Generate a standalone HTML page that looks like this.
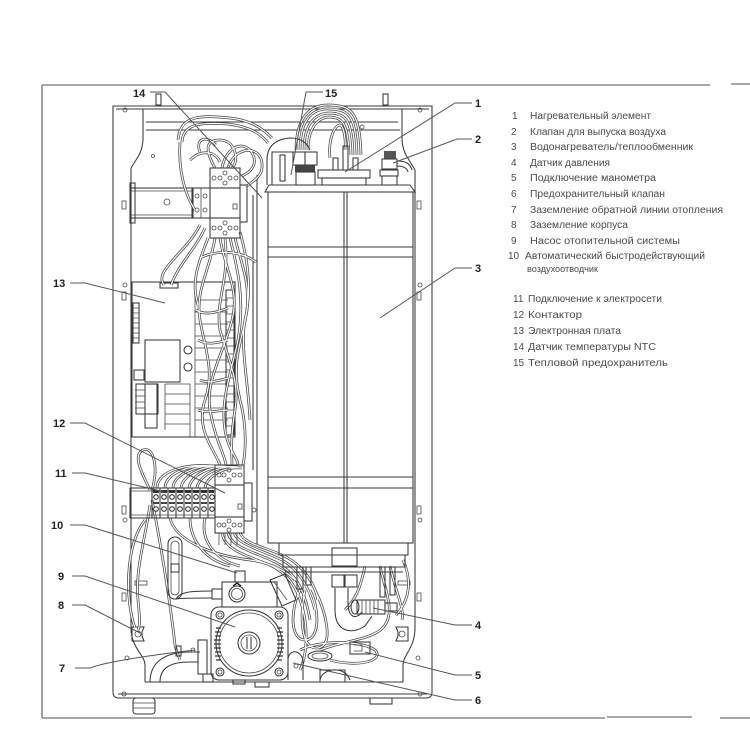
<!DOCTYPE html>
<html><head><meta charset="utf-8"><style>
html,body{margin:0;padding:0;background:#fff;}
svg{display:block;}
.l{fill:none;stroke:#383838;stroke-width:1.05;}
.t{fill:none;stroke:#484848;stroke-width:.8;}
.ld{fill:none;stroke:#555;stroke-width:1;}
.lb{font-family:"Liberation Sans",sans-serif;font-weight:bold;font-size:11px;fill:#222;}
.lg{font-family:"Liberation Sans","Noto Sans CJK SC",sans-serif;font-size:10px;fill:#4a4a4a;}
</style></head><body>
<svg width="750" height="750" viewBox="0 0 750 750" xmlns="http://www.w3.org/2000/svg">
<rect width="750" height="750" fill="#fff"/>
<!-- outer frame -->
<path d="M42,85 H710 M731,84 H750 M42,85 V718 M42,718 H605 M607,717 H692 M720,718 H750" fill="none" stroke="#8a8a8a" stroke-width="1.6"/>

<!-- cabinet -->
<path class="l" d="M113,106 H432 V692 Q432,698 426,698 H119 Q113,698 113,692 Z"/>
<path class="l" d="M116,109 H429"/>
<path class="l" d="M143,109 V138 Q143,150 136,160 L131,168 V628 C131,648 145,655 145,665 V682"/>
<path class="l" d="M402,109 V138 Q402,150 409,160 L415,170 V628 C415,648 403,655 403,665 V682"/>
<path class="l" d="M146,122 H398 M146,130 H400"/>
<path class="l" d="M145,682 H403"/>
<path class="l" d="M118,694 H427"/>
<!-- top tabs -->
<rect class="l" x="156" y="94" width="5" height="11"/>
<rect class="l" x="383" y="94" width="5" height="11"/>
<!-- holes & slots -->
<g class="t">
<circle cx="125" cy="110" r="2"/><circle cx="420" cy="110" r="2"/>
<circle cx="153" cy="156" r="1.5"/><circle cx="362" cy="127" r="2"/>
<rect x="122" y="201" width="4" height="8"/><rect x="417" y="201" width="4" height="8"/>
<circle cx="125" cy="285" r="2"/><circle cx="420" cy="285" r="2"/>
<rect x="122" y="292" width="4" height="8"/><rect x="417" y="292" width="4" height="8"/>
<rect x="122" y="506" width="4" height="8"/><rect x="417" y="506" width="4" height="8"/>
<circle cx="125" cy="520" r="2"/><circle cx="420" cy="520" r="2"/>
<rect x="122" y="593" width="4" height="8"/><rect x="417" y="593" width="4" height="8"/>
<circle cx="127" cy="658" r="2"/><circle cx="418" cy="658" r="2"/>
<circle cx="124" cy="694" r="2"/><circle cx="420" cy="694" r="2"/>
<rect x="135" y="581" width="12" height="4"/><rect x="398" y="581" width="12" height="4"/>
</g>
<!-- clips 8 -->
<path class="l" d="M132,627 h12 l-2,5 v4 l2,5 h-12 z M408,627 h-12 l2,5 v4 l-2,5 h12 z"/>
<circle class="t" cx="138" cy="634" r="3"/><circle class="t" cx="402" cy="634" r="3"/>
<!-- feet -->
<rect class="l" x="133" y="698" width="22" height="16" rx="3"/>
<path class="t" d="M133,703 H155 M133,708 H155"/>
<rect class="l" x="370" y="698" width="22" height="6"/>

<!-- divider lines -->
<path class="l" d="M253,195 V470 M257,175 V545"/>

<!-- DIN rail upper -->
<rect class="l" x="131" y="188" width="62" height="30"/>
<path class="t" d="M131,191 H193 M131,215 H193"/>
<rect class="l" x="130" y="183" width="5" height="40"/>
<circle class="t" cx="167" cy="202" r="3"/>
<rect class="l" x="192" y="188" width="18" height="30"/>
<g class="t"><circle cx="197" cy="196" r="2"/><circle cx="205" cy="196" r="2"/><circle cx="197" cy="210" r="2"/><circle cx="205" cy="210" r="2"/><path d="M201,188 V218"/></g>

<!-- electronic board -->
<rect class="l" x="132" y="282" width="103" height="155"/>
<rect class="l" x="160" y="283" width="18" height="5"/>
<rect class="l" x="133" y="303" width="6" height="40"/>
<path class="t" d="M133,308 h6 M133,313 h6 M133,318 h6 M133,323 h6 M133,328 h6 M133,333 h6 M133,338 h6"/>
<rect class="l" x="145" y="340" width="35" height="42"/>
<circle class="l" cx="188" cy="350" r="4"/><circle class="l" cx="188" cy="367" r="4"/>
<rect class="l" x="134" y="370" width="10" height="10"/>
<rect class="l" x="136" y="384" width="22" height="30"/>
<rect class="l" x="145" y="384" width="12" height="44"/>
<path class="t" d="M135,390 h10 M135,396 h10 M135,402 h10 M135,408 h10"/>
<path class="t" d="M165,384 H190 V437 M165,394 H190 M165,404 H190 M165,414 H190 M165,424 H190 M165,384 V430"/>
<path class="t" d="M195,290 V437 M195,300 H228 M195,312 H228 M195,324 H228 M195,336 H228 M195,348 H228 M195,360 H228 M195,372 H228 M195,384 H228 M195,396 H228 M195,408 H228 M195,420 H228"/>
<rect class="l" x="226" y="290" width="8" height="145"/>
<path class="t" d="M226,298 h8 M226,306 h8 M226,314 h8 M226,322 h8 M226,330 h8 M226,338 h8 M226,346 h8 M226,354 h8 M226,362 h8 M226,370 h8 M226,378 h8 M226,386 h8 M226,394 h8 M226,402 h8 M226,410 h8 M226,418 h8 M226,426 h8"/>

<!-- wires definition -->
<defs>
<g id="W">
<path d="M178,140 C180,115 200,115 230,118 C250,120 262,128 272,138"/>
<path d="M182,142 C183,124 200,122 228,124 C250,127 260,133 268,143"/>
<path d="M180,142 C178,170 185,195 195,210"/>
<path d="M215,168 C205,150 205,140 220,140 C235,140 240,160 232,168"/>
<path d="M222,168 C225,150 240,140 250,150 C258,160 255,170 242,176"/>
<path d="M228,168 C235,145 262,145 262,165 C263,175 255,180 247,186"/>
<path d="M200,152 C195,140 205,134 216,145"/>
<path d="M190,160 C200,150 215,150 220,162"/>
<path d="M215,238 C210,270 195,290 200,320 C205,350 215,370 205,400 C195,430 215,450 220,465"/>
<path d="M220,238 C225,270 240,290 232,320 C225,350 205,380 210,410 C215,440 225,455 226,465"/>
<path d="M225,238 C230,280 215,300 220,330 C228,360 240,380 235,410 C230,440 232,455 232,465"/>
<path d="M230,238 C238,270 245,300 238,340 C232,370 220,400 225,430 C228,450 238,458 238,465"/>
<path d="M235,238 C240,260 250,280 247,310 C243,340 230,360 240,400 C248,430 245,455 243,465"/>
<path d="M240,232 C248,260 252,290 245,320 C240,345 248,380 250,420"/>
<path d="M208,238 C200,260 190,280 198,305"/>
<path d="M200,225 C190,245 175,255 165,270 C160,278 162,282 164,285"/>
<path d="M205,228 C195,250 180,262 171,285"/>
<path d="M200,258 C215,250 240,250 256,262"/>
<path d="M196,310 C205,316 218,312 228,308"/>
<path d="M198,340 C208,346 220,342 228,340"/>
<path d="M200,380 C210,384 220,380 228,378"/>
<path d="M198,410 C208,414 220,410 228,410"/>
<path d="M157,488 C157,470 190,462 218,467"/>
<path d="M165,488 C165,472 195,462 222,467"/>
<path d="M173,488 C173,474 200,462 226,467"/>
<path d="M181,488 C182,475 205,463 230,467"/>
<path d="M189,488 C190,476 210,464 234,467"/>
<path d="M197,488 C198,478 215,465 238,467"/>
<path d="M205,488 C206,478 222,466 242,468"/>
<path d="M150,490 C140,470 133,455 143,450 C155,446 158,470 152,490"/>
<path d="M150,505 C145,540 135,570 138,600 C140,620 140,626 138,630"/>
<path d="M152,500 C160,540 170,600 175,645 C176,650 178,655 180,660"/>
<path d="M145,520 C125,545 125,600 135,628"/>
<path d="M222,533 C225,550 245,555 270,565 C290,575 300,590 305,620 C308,640 305,660 300,670"/>
<path d="M228,533 C232,548 255,552 275,562 C295,572 305,590 310,620"/>
<path d="M234,533 C238,545 262,550 282,560 C300,570 310,590 315,610"/>
<path d="M240,533 C245,545 270,548 288,558 C305,568 315,585 318,600"/>
<path d="M205,518 C200,540 215,560 240,566"/>
<path d="M190,518 C190,540 205,560 230,566"/>
<path d="M170,518 C175,540 210,555 250,560 C270,563 285,570 295,580"/>
<path d="M300,590 C290,610 290,640 305,640 C320,640 320,610 310,590"/>
<path d="M305,590 C300,615 300,650 318,648 C335,645 325,610 315,590"/>
<path d="M365,566 C360,590 355,600 345,610"/>
<path d="M380,566 C385,590 395,610 385,625 C375,640 345,640 320,650"/>
<path d="M390,566 C395,590 405,610 402,620"/>
<path d="M403,560 C412,580 410,600 396,615"/>
<path d="M300,650 C320,640 360,640 375,650 C385,660 360,668 330,660"/>
<path d="M300,150 C300,120 312,108 330,109 C348,110 356,114 357,155"/>
<path d="M304,150 C304,124 315,113 330,113 C345,114 352,118 353,155"/>
<path d="M308,150 C308,128 318,117 330,117 C342,118 348,122 349,155"/>
<path d="M296,150 C296,118 310,104 330,105 C350,106 360,110 361,155"/>
<path d="M330,158 C328,138 335,125 340,125 C344,126 346,140 345,150"/>
</g>
</defs>
<use href="#W" fill="none" stroke="#444" stroke-width="2.7"/>
<use href="#W" fill="none" stroke="#fff" stroke-width="1.2"/>

<!-- upper contactor -->
<g>
<rect class="l" x="210" y="168" width="30" height="20" fill="#fff"/>
<rect class="l" x="210" y="188" width="30" height="30" fill="#fff"/>
<rect class="l" x="210" y="218" width="30" height="20" fill="#fff"/>
<rect class="l" x="240" y="185" width="7" height="37" fill="#fff"/>
<g class="t"><circle cx="225" cy="173" r="2"/><circle cx="225" cy="183" r="2"/><circle cx="220" cy="178" r="2"/><circle cx="230" cy="178" r="2"/><circle cx="214" cy="178" r="2"/><circle cx="236" cy="178" r="2"/>
<circle cx="225" cy="223" r="2"/><circle cx="225" cy="233" r="2"/><circle cx="220" cy="228" r="2"/><circle cx="230" cy="228" r="2"/><circle cx="214" cy="228" r="2"/><circle cx="236" cy="228" r="2"/>
<rect x="233" y="204" width="4" height="5"/></g>
</g>

<!-- lower DIN rail & terminals -->
<rect class="l" x="130" y="488" width="22" height="30" fill="#fff"/>
<path class="t" d="M130,491 H215 M130,515 H215"/>
<g>
<rect class="l" x="152" y="488" width="63" height="30" fill="#fff"/>
<path class="l" d="M160,488 V518 M168,488 V518 M176,488 V518 M184,488 V518 M192,488 V518 M200,488 V518 M208,488 V518"/>
<g fill="#fff" stroke="#222" stroke-width="1">
<circle cx="156" cy="497" r="2.3"/><circle cx="164" cy="497" r="2.3"/><circle cx="172" cy="497" r="2.3"/><circle cx="180" cy="497" r="2.3"/><circle cx="188" cy="497" r="2.3"/><circle cx="196" cy="497" r="2.3"/><circle cx="204" cy="497" r="2.3"/><circle cx="212" cy="497" r="2.3"/>
<circle cx="156" cy="509" r="2.3"/><circle cx="164" cy="509" r="2.3"/><circle cx="172" cy="509" r="2.3"/><circle cx="180" cy="509" r="2.3"/><circle cx="188" cy="509" r="2.3"/><circle cx="196" cy="509" r="2.3"/><circle cx="204" cy="509" r="2.3"/><circle cx="212" cy="509" r="2.3"/>
</g>
<path d="M153,490 h6 v3 h-6z M161,490 h6 v3 h-6z M169,490 h6 v3 h-6z M177,490 h6 v3 h-6z M185,490 h6 v3 h-6z M193,490 h6 v3 h-6z M201,490 h6 v3 h-6z M209,490 h5 v3 h-5z" fill="#333"/>
<path d="M153,502 h6 v2 h-6z M161,502 h6 v2 h-6z M169,502 h6 v2 h-6z M177,502 h6 v2 h-6z M185,502 h6 v2 h-6z M193,502 h6 v2 h-6z M201,502 h6 v2 h-6z M209,502 h5 v2 h-5z" fill="#444"/>
</g>
<!-- lower contactor -->
<rect class="l" x="215" y="465" width="29" height="20" fill="#fff"/>
<rect class="l" x="215" y="485" width="29" height="32" fill="#fff"/>
<rect class="l" x="215" y="517" width="29" height="16" fill="#fff"/>
<rect class="l" x="244" y="483" width="8" height="38" fill="#fff"/>
<g class="t"><circle cx="229" cy="470" r="2"/><circle cx="229" cy="480" r="2"/><circle cx="224" cy="475" r="2"/><circle cx="234" cy="475" r="2"/><circle cx="219" cy="475" r="2"/><circle cx="240" cy="475" r="2"/>
<circle cx="229" cy="521" r="2"/><circle cx="229" cy="530" r="2"/><circle cx="224" cy="525" r="2"/><circle cx="234" cy="525" r="2"/><circle cx="219" cy="525" r="2"/><circle cx="240" cy="525" r="2"/>
<rect x="238" y="504" width="4" height="5"/><circle cx="254" cy="510" r="2"/></g>
<path class="t" d="M219,533 V545 M225,533 V545 M231,533 V545 M237,533 V545"/>

<!-- tank -->
<rect class="l" x="268" y="192" width="145" height="351" fill="#fff"/>
<path class="l" d="M265,192 L269,185 H410 L415,192 Z" fill="#fff"/>
<path class="l" d="M268,247 H413 M268,257 H413 M268,477 H413 M268,488 H413 M344,192 V543 M347,192 V543"/>
<path class="l" d="M279,543 V555 H408 V543 M283,555 V567 H405 V555"/>
<rect class="l" x="332" y="548" width="25" height="18" fill="#fff"/>
<path class="l" d="M285,572 H403"/>
<!-- stubs under tank -->
<rect class="l" x="297" y="567" width="6" height="22" fill="#fff"/>
<rect class="l" x="306" y="567" width="5" height="18" fill="#fff"/>
<rect class="l" x="380" y="567" width="5" height="30" fill="#fff"/>
<rect class="l" x="390" y="567" width="5" height="28" fill="#fff"/>
<!-- U pipe -->
<rect class="l" x="332" y="575" width="12" height="12" fill="#fff"/>
<rect class="l" x="345" y="575" width="12" height="12" fill="#fff"/>
<path class="l" d="M335,588 V610 C335,632 352,635 365,626 L372,616 M348,588 V602 C348,618 356,620 362,612"/>
<!-- pressure sensor 4 -->
<ellipse class="l" cx="355" cy="607" rx="4" ry="7" fill="#fff"/>
<rect class="l" x="357" y="600" width="28" height="14" fill="#fff"/>
<path class="t" d="M362,600 V614 M366,600 V614 M370,600 V614 M374,600 V614 M378,600 V614"/>
<rect class="l" x="385" y="603" width="12" height="8" fill="#fff"/>
<!-- manometer 5 -->
<rect class="l" x="350" y="642" width="20" height="12" fill="#fff"/>
<path class="t" d="M354,645 h8 v6 h-8"/>
<!-- safety valve 6 -->
<ellipse class="l" cx="320" cy="656" rx="12" ry="5"/>
<ellipse class="t" cx="320" cy="656" rx="8" ry="3"/>
<path class="l" d="M288,660 C288,650 300,648 303,660 V680 M288,660 V680"/>
<circle class="t" cx="296" cy="666" r="2"/>
<path class="l" d="M320,680 C322,668 345,665 350,680"/>

<!-- top of tank components -->
<path class="l" d="M267,185 V160 Q267,140 290,138 Q305,138 310,150" fill="#fff"/>
<path class="l" d="M272,185 V152 H293"/>
<rect class="l" x="280" y="155" width="5" height="26"/>
<rect class="l" x="293" y="152" width="12" height="13" fill="#fff"/>
<rect class="l" x="305" y="152" width="12" height="13" fill="#fff"/>
<rect x="295" y="165" width="20" height="7" fill="#444"/>
<rect class="l" x="296" y="172" width="19" height="13" fill="#fff"/>
<rect class="l" x="318" y="170" width="52" height="8" fill="#fff"/>
<rect class="l" x="322" y="178" width="44" height="7" fill="#fff"/>
<rect class="l" x="333" y="158" width="5" height="12" fill="#fff"/>
<rect class="l" x="343" y="146" width="5" height="24" fill="#fff"/>
<rect class="l" x="353" y="158" width="5" height="12" fill="#fff"/>
<rect x="384" y="151" width="12" height="8" fill="#555"/>
<rect class="l" x="382" y="159" width="15" height="10" fill="#fff"/>
<rect class="l" x="380" y="170" width="18" height="6" fill="#fff"/>
<rect class="l" x="382" y="176" width="15" height="9" fill="#fff"/>
<path class="l" d="M397,161 C405,161 410,163 412,170 M397,166 C403,166 407,168 408,172"/>

<!-- air vent 10 -->
<rect class="l" x="168" y="537" width="14" height="62" rx="7" fill="#fff"/>
<rect class="t" x="171" y="541" width="8" height="54" rx="4"/>
<rect class="l" x="171" y="564" width="8" height="8"/>
<path class="l" d="M176,599 C180,592 190,591 212,591 M176,599 C182,598 195,598 212,598"/>

<!-- pump 9 -->
<rect class="l" x="211" y="607" width="77" height="73" rx="8" fill="#fff"/>
<g class="l" fill="#fff"><circle cx="220" cy="615" r="4"/><circle cx="279" cy="615" r="4"/><circle cx="220" cy="672" r="4"/><circle cx="279" cy="672" r="4"/></g>
<g class="t"><circle cx="220" cy="615" r="2"/><circle cx="279" cy="615" r="2"/><circle cx="220" cy="672" r="2"/><circle cx="279" cy="672" r="2"/></g>
<circle class="l" cx="249" cy="643" r="33" fill="#fff"/>
<circle class="t" cx="249" cy="643" r="30"/>
<path d="M216,628 h5 M215,632 h6 M215,636 h6 M214,640 h7 M214,644 h7 M214,648 h7 M215,652 h6 M215,656 h6 M216,660 h5 M277,628 h5 M277,632 h6 M277,636 h6 M277,640 h7 M277,644 h7 M277,648 h7 M277,652 h6 M277,656 h6 M277,660 h5" stroke="#333" stroke-width="1.3"/>
<circle class="l" cx="249" cy="643" r="11"/>
<circle class="t" cx="249" cy="643" r="8"/>
<path class="l" d="M247,637 V649 M251,637 V649"/>
<rect class="l" x="222" y="582" width="55" height="25" fill="#fff"/>
<circle class="l" cx="237" cy="594" r="8"/><circle class="t" cx="237" cy="594" r="5.5"/>
<path d="M233,586 l4,-3 l4,3" fill="none" stroke="#222" stroke-width="1.5"/>
<rect class="l" x="212" y="589" width="10" height="10" fill="#fff"/>
<rect class="l" x="235" y="571" width="10" height="11" fill="#fff"/>
<path class="l" d="M270,580 L285,574 L296,600 L282,606 Z" fill="#fff"/>
<path class="t" d="M274,582 L287,600"/>

<!-- bottom left pipes / ground 7 -->
<path class="l" d="M150,682 C150,662 165,652 190,652 H200"/>
<path class="l" d="M160,682 C160,668 170,662 190,662 H198"/>
<rect class="l" x="198" y="640" width="9" height="34" fill="#fff"/>
<rect class="l" x="203" y="674" width="10" height="8"/>
<rect class="l" x="176" y="646" width="5" height="10" fill="#fff"/>
<circle class="t" cx="193" cy="650" r="2"/>
<rect class="l" x="233" y="680" width="12" height="4"/>
<rect class="l" x="255" y="682" width="14" height="5"/>
<path class="l" d="M320,682 V670 H345 V682"/>

<!-- leader lines -->
<g class="ld">
<path d="M150,92 H165 L262,198"/>
<path d="M323,92 H306 L291,175"/>
<path d="M472,103 H455 L345,172"/>
<path d="M472,139 H457 L393,163"/>
<path d="M472,268 H455 L380,318"/>
<path d="M70,283 H85 L165,303"/>
<path d="M70,423 H85 L225,493"/>
<path d="M72,473 H85 L165,492"/>
<path d="M70,525 H85 L237,573"/>
<path d="M72,576 H85 L235,627"/>
<path d="M72,605 H85 L140,633"/>
<path d="M75,668 H90 Q110,660 195,650"/>
<path d="M472,625 H455 L373,608"/>
<path d="M472,675 H455 L365,652"/>
<path d="M472,700 H455 L293,663"/>
</g>
<!-- labels -->
<g class="lb">
<text x="133" y="97">14</text>
<text x="325" y="97">15</text>
<text x="475" y="107">1</text>
<text x="475" y="143">2</text>
<text x="475" y="272">3</text>
<text x="53" y="287">13</text>
<text x="53" y="427">12</text>
<text x="55" y="477">11</text>
<text x="51" y="529">10</text>
<text x="58" y="580">9</text>
<text x="58" y="609">8</text>
<text x="59" y="672">7</text>
<text x="475" y="629">4</text>
<text x="475" y="679">5</text>
<text x="475" y="704">6</text>
</g>

<!-- legend -->
<g class="lg">
<text x="512" y="119">1</text><text x="530" y="119" textLength="121" lengthAdjust="spacingAndGlyphs">Нагревательный элемент</text>
<text x="511" y="135">2</text><text x="530" y="135" textLength="136" lengthAdjust="spacingAndGlyphs">Клапан для выпуска воздуха</text>
<text x="511" y="150">3</text><text x="530" y="150" textLength="163" lengthAdjust="spacingAndGlyphs">Водонагреватель/теплообменник</text>
<text x="511" y="166">4</text><text x="530" y="166" textLength="80" lengthAdjust="spacingAndGlyphs">Датчик давления</text>
<text x="511" y="181">5</text><text x="530" y="181" textLength="126" lengthAdjust="spacingAndGlyphs">Подключение манометра</text>
<text x="511" y="197">6</text><text x="530" y="197" textLength="135" lengthAdjust="spacingAndGlyphs">Предохранительный клапан</text>
<text x="511" y="213">7</text><text x="530" y="213" textLength="193" lengthAdjust="spacingAndGlyphs">Заземление обратной линии отопления</text>
<text x="511" y="228">8</text><text x="530" y="228" textLength="98" lengthAdjust="spacingAndGlyphs">Заземление корпуса</text>
<text x="511" y="244">9</text><text x="530" y="244" textLength="150" lengthAdjust="spacingAndGlyphs">Насос отопительной системы</text>
<text x="508" y="259">10</text><text x="525" y="259" textLength="180" lengthAdjust="spacingAndGlyphs">Автоматический быстродействующий</text>
<text x="527" y="272" font-size="9" textLength="71" lengthAdjust="spacingAndGlyphs">воздухоотводчик</text>
<text x="513" y="302">11</text><text x="528" y="302" textLength="134" lengthAdjust="spacingAndGlyphs">Подключение к электросети</text>
<text x="513" y="318">12</text><text x="528" y="318" textLength="54" lengthAdjust="spacingAndGlyphs">Контактор</text>
<text x="513" y="334">13</text><text x="528" y="334" textLength="93" lengthAdjust="spacingAndGlyphs">Электронная плата</text>
<text x="513" y="350">14</text><text x="528" y="350" textLength="128" lengthAdjust="spacingAndGlyphs">Датчик температуры NTC</text>
<text x="513" y="366">15</text><text x="528" y="366" textLength="140" lengthAdjust="spacingAndGlyphs">Тепловой предохранитель</text>
</g>
</svg>
</body></html>
